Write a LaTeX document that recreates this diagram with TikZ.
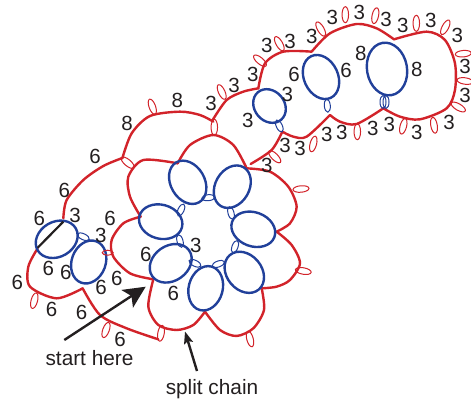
\documentclass[tikz,border=0pt]{standalone}
\usepackage{fontspec}
\setmainfont{Liberation Sans}
\usetikzlibrary{arrows.meta,shapes.geometric}
\definecolor{rline}{HTML}{D2232A}
\definecolor{bline}{HTML}{21409A}
\definecolor{ink}{HTML}{231F20}
\tikzset{
  redchain/.style={draw=rline,line width=2.4pt,line cap=round,line join=round},
  ring/.style={draw=bline,line width=2.4pt,ellipse,inner sep=0pt,fill=none},
  picot/.style={draw=rline,line width=1pt,ellipse,inner sep=0pt,minimum width=16pt,minimum height=6.5pt},
  bpicot/.style={draw=bline,line width=1pt,ellipse,inner sep=0pt,minimum width=13pt,minimum height=6pt},
  num/.style={text=ink,font=\fontsize{20.5}{20.5}\selectfont,inner sep=0pt},
  captext/.style={text=ink,font=\fontsize{20.8}{22}\selectfont,inner sep=0pt},
  callout/.style={draw=ink,line width=2.4pt}
}
\begin{document}
\begin{tikzpicture}[x=1pt,y=-1pt]
\useasboundingbox (0,0) rectangle (471,405);
% rosette
\begin{scope}[shift={(100,130)},x=0.3333pt,y=-0.3333pt]
\draw[redchain] plot[smooth] coordinates {(233,100)(270,45)(340,15)(400,45)(440,115)};
\draw[redchain] plot[smooth] coordinates {(440,115)(510,125)(565,170)(590,230)(570,280)(530,305)};
\draw[redchain] plot[smooth] coordinates {(530,305)(575,345)(600,400)(570,450)(530,470)(485,475)};
\draw[redchain] plot[smooth] coordinates {(485,475)(492,540)(460,595)(410,618)(360,600)(315,545)};
\draw[redchain] plot[smooth] coordinates {(315,545)(280,585)(230,600)(175,585)(145,530)(160,448)};
\draw[redchain] plot[smooth] coordinates {(160,448)(90,430)(40,380)(35,330)(70,280)(122,260)};
\draw[redchain] plot[smooth] coordinates {(122,260)(90,200)(85,140)(130,90)(233,100)};
\end{scope}
% left part
\begin{scope}[shift={(0,180)},x=0.3333pt,y=-0.3333pt]
\draw[redchain] plot[smooth] coordinates {(113,205)(85,260)(90,320)(170,355)(248,325)};
\draw[redchain] plot[smooth] coordinates {(248,325)(300,405)(380,445)(475,478)};
\draw[redchain] plot[smooth] coordinates {(190,115)(200,60)(250,0)(310,-42)(367,-66)};
\end{scope}
\begin{scope}[shift={(90,90)},x=0.3333pt,y=-0.3333pt]
\draw[redchain] plot[smooth] coordinates {(97,205)(125,130)(180,78)(270,65)(330,75)(370,95)};
\end{scope}
% upper chain
\begin{scope}[shift={(200,0)},x=0.3333pt,y=-0.3333pt]
\draw[redchain] plot[smooth] coordinates {(38,360)(80,300)(130,275)(175,265)};
\draw[redchain] plot[smooth] coordinates {(175,265)(195,190)(250,155)(335,155)};
\draw[redchain] plot[smooth] coordinates {(335,155)(390,100)(470,72)(530,85)(582,118)};
\draw[redchain] plot[smooth] coordinates {(582,118)(680,95)(735,120)(765,190)(765,270)(740,325)(660,358)(600,350)(550,325)};
\draw[redchain] plot[smooth] coordinates {(550,325)(470,372)(420,365)(390,345)};
\draw[redchain] plot[smooth] coordinates {(390,345)(320,410)(280,410)(247,395)};
\draw[redchain] plot[smooth] coordinates {(247,395)(215,450)(152,492)};
\end{scope}
% rings
\node[ring,minimum width=46pt,minimum height=34pt,rotate=-60] (r1) at (187.7,182.3) {};
\node[ring,minimum width=45pt,minimum height=34pt,rotate=60] (r2) at (232.3,186.7) {};
\node[ring,minimum width=45pt,minimum height=34pt,rotate=-20] (r3) at (253.3,229.3) {};
\node[ring,minimum width=45pt,minimum height=35pt,rotate=-50] (r4) at (244.3,272.3) {};
\node[ring,minimum width=45pt,minimum height=34pt,rotate=75] (r5) at (205.7,288.3) {};
\node[ring,minimum width=45pt,minimum height=35pt,rotate=35] (r6) at (170.7,263.3) {};
\node[ring,minimum width=44pt,minimum height=34pt,rotate=-15] (r7) at (160.7,221.7) {};
\node[ring,minimum width=44pt,minimum height=35pt,rotate=30] (ra) at (56.7,239.3) {};
\node[ring,minimum width=44pt,minimum height=34pt,rotate=70] (rb) at (88.7,262) {};
\node[ring,minimum width=36pt,minimum height=30pt,rotate=-50] (rc) at (269.5,106) {};
\node[ring,minimum width=46pt,minimum height=34pt,rotate=-65] (rd) at (321,77) {};
\node[ring,minimum width=53pt,minimum height=40pt,rotate=-80] (re) at (387,69) {};
\coordinate (sa) at (63.3,221.7);
\coordinate (sb) at (37.7,247.7);
\draw[draw=ink,line width=2.2pt] (sa) -- (sb);
% blue picots
\foreach \n/\p/\r in {b1/{(208.3,197.7)}/5,b2/{(231,213)}/-75,b3/{(235,246.7)}/70,b4/{(218.3,264)}/20,b5/{(195,263.3)}/-25,b6/{(180,241)}/-75,b7/{(181,210)}/65,b8/{(83.3,236.7)}/-25,b9/{(279.3,126)}/-65,b10/{(327.3,105.7)}/-85,b11/{(383,102)}/90,b12/{(386,102)}/90}
  \node[bpicot,rotate=\r] (\n) at \p {};
% red picots
\foreach \n/\p/\r in {p1/{(214.3,127.3)}/90,p2/{(221.7,92)}/-65,p3/{(260,60.7)}/-40,p4/{(279.3,43.7)}/-60,p5/{(320.7,29)}/-60,p6/{(345.3,14.7)}/90,p7/{(375.3,15.7)}/78,p8/{(416.3,23.3)}/90,p9/{(445.3,27.3)}/62,p10/{(463.3,53.7)}/5,p11/{(465,81)}/-8,p12/{(458.3,107)}/-30,p13/{(434,125.3)}/-80,p14/{(403.3,126.3)}/75,p15/{(357.3,131.7)}/90,p16/{(313.3,144)}/75,p17/{(274.7,156.7)}/-45,p18/{(301,189)}/5,p19/{(303.3,271)}/-10,p20/{(250,339)}/-75,p21/{(161,333.3)}/80,p22/{(127.7,162.7)}/-40,p23/{(152.3,106.7)}/-70,p24/{(34.3,300.7)}/75,p25/{(106,330)}/70}
  \node[picot,rotate=\r] (\n) at \p {};
\node[draw=rline,line width=1pt,ellipse,inner sep=0pt,minimum width=11pt,minimum height=5pt] (p26) at (107.7,252.7) {};
% numbers
\foreach \n/\p in {t1/{(211,103)},t2/{(234,85)},t3/{(252.7,74)},t4/{(266.7,45.7)},t5/{(290,41.7)},t6/{(311.7,36)},t7/{(332.3,17.3)},t8/{(359.3,12.7)},t9/{(386,19.3)},t10/{(402.7,25)},t11/{(430.7,20.7)},t12/{(457.3,35)},t13/{(465,66.7)},t14/{(465,95)},t15/{(449,122.7)},t16/{(416.7,132.7)},t17/{(389.3,124)},t18/{(372.7,128.3)},t19/{(341.7,132.3)},t20/{(326.7,134)},t21/{(300,148.3)},t22/{(285,145)},t23/{(266.7,165)},t24/{(247.7,120.7)},t25/{(287.3,94)},t26/{(75,215.7)},t27/{(100.7,235)},t28/{(195.7,245)}}
  \node[num] (\n) at \p {3};
\foreach \n/\p in {s1/{(294,74)},s2/{(346,70.7)},s3/{(95,156.7)},s4/{(64.3,190)},s5/{(39.3,218.3)},s6/{(110,218.3)},s7/{(145.7,254)},s8/{(48.3,268.3)},s9/{(65.7,272.7)},s10/{(101,287.3)},s11/{(116.7,278.3)},s12/{(17.3,282.7)},s13/{(51.7,309)},s14/{(81.7,312.3)},s15/{(120,339)},s16/{(173.3,293.3)}}
  \node[num] (\n) at \p {6};
\foreach \n/\p in {e1/{(360.7,53.3)},e2/{(416.7,69)},e3/{(127,123.3)},e4/{(177.3,100)}}
  \node[num] (\n) at \p {8};
% callouts
\node[captext] (starthere) at (89.5,358) {start here};
\node[captext] (splitchain) at (212,389) {split chain};
\coordinate (starttail) at (64.3,340);
\coordinate (starttip) at (145.7,286.7);
\coordinate (splittail) at (197,371);
\coordinate (splittip) at (185,331.5);
\draw[callout,-{Stealth[length=22pt,width=21pt,inset=5pt]}] (starttail) -- (starttip);
\draw[callout,-{Stealth[length=12pt,width=9pt,inset=2pt]}] (splittail) -- (splittip);
\end{tikzpicture}
\end{document}
